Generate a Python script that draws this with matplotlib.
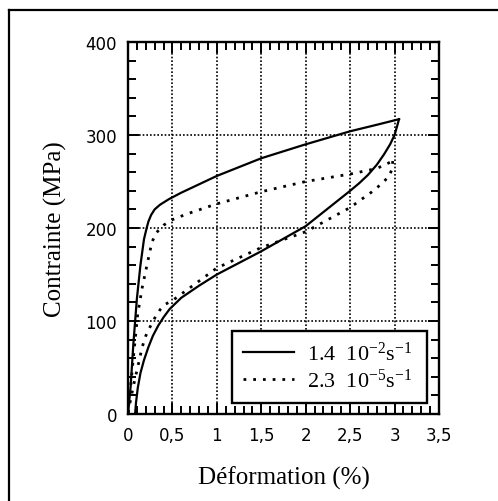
import matplotlib
matplotlib.use("Agg")
import matplotlib.pyplot as plt
from matplotlib.lines import Line2D
from matplotlib.ticker import MultipleLocator, FixedLocator

# Superelastic cycles at two strain rates (strain in %, stress in MPa)
fast_load_strain = [0.0, 0.03, 0.06, 0.10, 0.14, 0.18, 0.21, 0.23, 0.26, 0.30, 0.36, 0.46,
                    0.60, 0.80, 1.0, 1.5, 2.0, 2.5, 2.8, 3.05]
fast_load_stress = [0, 30, 75, 124, 160, 188, 200, 207, 214, 220, 225, 231,
                    238, 247, 256, 275, 290, 304, 311, 317]
fast_unload_strain = [3.05, 3.03, 3.0, 2.95, 2.88, 2.8, 2.7, 2.6, 2.5, 2.0, 1.5, 1.0, 0.8,
                      0.6, 0.47, 0.40, 0.34, 0.28, 0.23, 0.18, 0.14, 0.11, 0.09, 0.08]
fast_unload_stress = [317, 310, 300, 290, 279, 268, 257, 248, 240, 202, 175, 150, 138,
                      125, 113, 104, 95, 84, 72, 58, 44, 28, 12, 0]

slow_load_strain = [0.0, 0.03, 0.07, 0.11, 0.16, 0.20, 0.24, 0.27, 0.32, 0.40, 0.50, 0.66,
                    1.0, 1.5, 2.0, 2.5, 2.8, 2.98]
slow_load_stress = [0, 30, 70, 108, 136, 154, 172, 185, 195, 203, 209, 215,
                    226, 239, 250, 258, 264, 272]
slow_unload_strain = [2.98, 2.97, 2.94, 2.88, 2.81, 2.72, 2.63, 2.5, 2.0, 1.5, 1.0, 0.5,
                      0.42, 0.36, 0.30, 0.25, 0.20, 0.16, 0.12, 0.07, 0.03, 0.0]
slow_unload_stress = [272, 263, 256, 250, 244, 237, 231, 222, 196, 179, 157, 122,
                      118, 112, 103, 94, 84, 72, 55, 34, 16, 0]

legend_labels = [r"1.4  10$\mathregular{^{-2}}$s$\mathregular{^{-1}}$",
                 r"2.3  10$\mathregular{^{-5}}$s$\mathregular{^{-1}}$"]
x_ticks = [0, 0.5, 1, 1.5, 2, 2.5, 3, 3.5]
x_tick_labels = ["0", "0,5", "1", "1,5", "2", "2,5", "3", "3,5"]
y_ticks = [0, 100, 200, 300, 400]

plt.rcParams["mathtext.default"] = "regular"

fig = plt.figure(figsize=(4.98, 5.02), dpi=100)
ax = fig.add_axes([128 / 498, 87 / 502, 311 / 498, 372 / 502])

dots = (0, (1, 2.5))
ax.plot(fast_load_strain, fast_load_stress, color="black", lw=1.6, label=legend_labels[0])
ax.plot(fast_unload_strain, fast_unload_stress, color="black", lw=1.6)
ax.plot(slow_load_strain, slow_load_stress, color="black", lw=2, ls=dots, label=legend_labels[1])
ax.plot(slow_unload_strain, slow_unload_stress, color="black", lw=2, ls=dots)

ax.set_xlim(0, 3.5)
ax.set_ylim(0, 400)
ax.xaxis.set_major_locator(FixedLocator(x_ticks))
ax.set_xticklabels(x_tick_labels)
ax.yaxis.set_major_locator(FixedLocator(y_ticks))
ax.xaxis.set_minor_locator(MultipleLocator(0.1))
ax.yaxis.set_minor_locator(MultipleLocator(20))

ax.grid(True, which="major", color="black", lw=1.2, ls=(0, (1, 1.2)))
ax.set_axisbelow(True)

ax.tick_params(which="both", direction="in", top=True, right=True, width=1.4,
               labelsize=12)
ax.tick_params(axis="x", pad=9)
ax.tick_params(axis="y", pad=8)
ax.tick_params(which="major", length=8)
ax.tick_params(which="minor", length=6)
for lab in ax.get_xticklabels() + ax.get_yticklabels():
    lab.set_fontfamily("DejaVu Sans")
for sp in ax.spines.values():
    sp.set_linewidth(1.7)

ax.set_xlabel("Déformation (%)", fontsize=18, family="Liberation Serif", labelpad=15)
ax.set_ylabel("Contrainte (MPa)", fontsize=18, family="Liberation Serif", labelpad=13)

leg = ax.legend(loc="lower left", bbox_to_anchor=(0.334, 0.03, 0.627, 0.217), mode="expand",
                borderaxespad=0, prop={"family": "Liberation Serif", "size": 16},
                fancybox=False, framealpha=1, edgecolor="black", handlelength=2.3,
                handletextpad=0.6, borderpad=0.5, labelspacing=0.15)
leg.get_frame().set_linewidth(1.7)

# Outer frame around the figure (top and left edges visible)
fig.add_artist(Line2D([9 / 498, 9 / 498], [0, 1 - 11 / 502], transform=fig.transFigure,
                      color="black", lw=1.6))
fig.add_artist(Line2D([9 / 498, 1], [1 - 11 / 502, 1 - 11 / 502], transform=fig.transFigure,
                      color="black", lw=1.6))

fig.savefig("out.png", dpi=100, facecolor="white")
